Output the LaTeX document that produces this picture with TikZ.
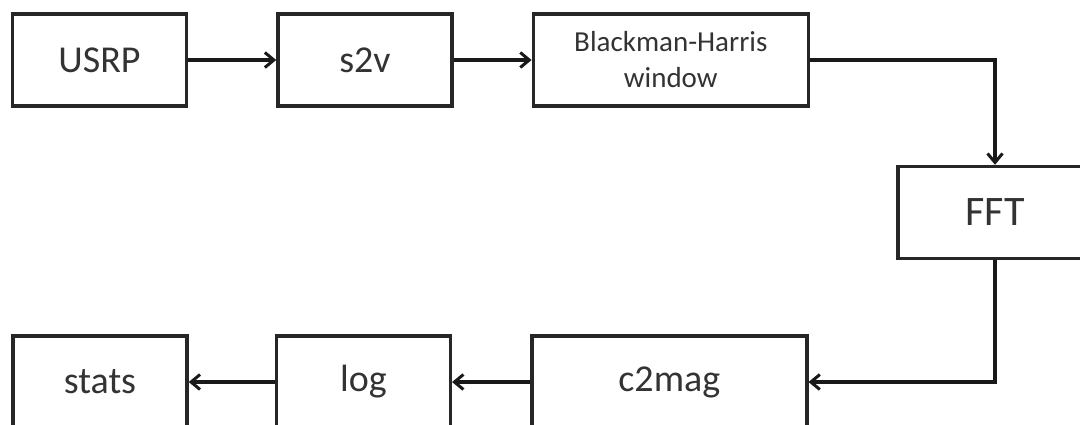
\documentclass[tikz,border=0pt]{standalone}
\usepackage{fontspec}
\setmainfont{Carlito}
\usepackage{tikz}
\usetikzlibrary{arrows.meta,positioning}

\begin{document}
\begin{tikzpicture}[x=1pt,y=1pt,>={Straight Barb[length=9pt,width=15pt,line width=3pt]},
 box/.style={draw=black!85,line width=3.4pt,minimum width=174pt,minimum height=92pt,inner sep=0pt,
  text=black!80,align=center,font=\fontsize{38}{44}\selectfont},
 flow/.style={->,draw=black!90,line width=3.4pt}]
\useasboundingbox (0,0) rectangle (1080,-424);
\clip (0,0) rectangle (1080,-424);
% top row
\node[box] (usrp) at (99.5,-60) {USRP};
\node[box,right=88pt of usrp] (s2v) {s2v};
\node[box,minimum width=275pt,right=78pt of s2v,font=\fontsize{29}{36}\selectfont] (bh) {Blackman-Harris\\window};
% right
\node[box,minimum width=194pt,font=\fontsize{42}{48}\selectfont] (fft) at (995,-212.5) {FFT};
% bottom row
\node[box] (stats) at (100,-382) {stats};
\node[box,right=86pt of stats] (log) {log};
\node[box,minimum width=275pt,right=78pt of log] (mag) {c2mag};
\draw[flow] (usrp)--(s2v);
\draw[flow] (s2v)--(bh);
\draw[flow] (bh.east) -| (fft.north);
\draw[flow] (fft.south) |- (mag.east);
\draw[flow] (mag)--(log);
\draw[flow] (log)--(stats);
\end{tikzpicture}
\end{document}
